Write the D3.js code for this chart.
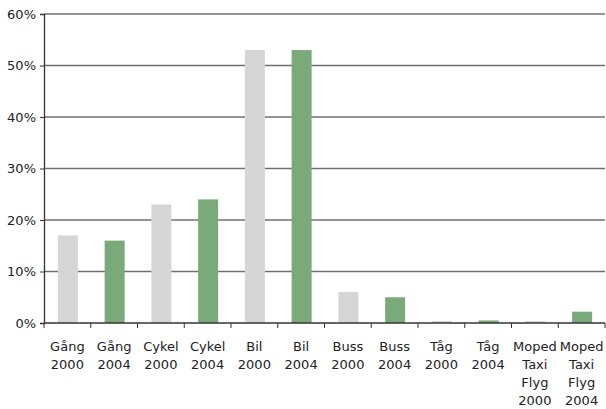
<!DOCTYPE html>
<html><head><meta charset="utf-8">
<script src="https://cdn.jsdelivr.net/npm/d3@7"></script>
<style>body{margin:0;background:#fff}text{font-family:"DejaVu Sans",sans-serif}</style>
</head><body><svg id="c" width="606" height="409"></svg>
<script>
const categories = [["Gång","2000"],["Gång","2004"],["Cykel","2000"],["Cykel","2004"],["Bil","2000"],["Bil","2004"],["Buss","2000"],["Buss","2004"],["Tåg","2000"],["Tåg","2004"],["Moped","Taxi","Flyg","2000"],["Moped","Taxi","Flyg","2004"]];
const values = [17,16,23,24,53,53,6,5,0.4,0.5,0.4,2.2];
const years = ["2000","2004","2000","2004","2000","2004","2000","2004","2000","2004","2000","2004"];
const yTicks = [0,10,20,30,40,50,60];
const colors = {"2000":"#d6d6d6","2004":"#7aaa7a"};

const svg = d3.select("#c");
const m = {l:44, r:605, t:14, b:323};
const x = d3.scaleBand().domain(d3.range(categories.length)).range([m.l, m.r]).paddingInner(0).paddingOuter(0);
const y = d3.scaleLinear().domain([0,60]).range([m.b, m.t]);

// gridlines
svg.append("g").selectAll("line").data(yTicks.filter(d=>d>0)).join("line")
  .attr("x1", m.l).attr("x2", m.r).attr("y1", d=>y(d)).attr("y2", d=>y(d))
  .attr("stroke", "#707070").attr("stroke-width", 1.3);

// bars
const bw = 20;
svg.append("g").selectAll("rect").data(values).join("rect")
  .attr("x", (d,i)=>x(i)+x.bandwidth()/2-bw/2+0.5)
  .attr("width", bw)
  .attr("y", d=>y(d))
  .attr("height", d=>y(0)-y(d))
  .attr("fill", (d,i)=>colors[years[i]]);

// y axis
const ya = svg.append("g").attr("transform", `translate(${m.l},0)`)
  .call(d3.axisLeft(y).tickValues(yTicks).tickFormat(d=>d+"%").tickSize(4).tickPadding(4));
ya.select(".domain").attr("stroke","#333").attr("stroke-width",1.3);
ya.selectAll(".tick line").attr("stroke","#333");
ya.selectAll("text").attr("font-size",13).attr("fill","#222").attr("font-family","DejaVu Sans");

// x axis
const xa = svg.append("g").attr("transform", `translate(0,${m.b})`);
xa.append("line").attr("x1", m.l).attr("x2", m.r).attr("stroke","#333").attr("stroke-width",1.3);
xa.selectAll("line.t").data(d3.range(categories.length+1)).join("line").attr("class","t")
  .attr("x1", i=>i<categories.length? x(i): m.r).attr("x2", i=>i<categories.length? x(i): m.r)
  .attr("y1",0).attr("y2",5).attr("stroke","#333");
const lab = xa.selectAll("text").data(categories).join("text")
  .attr("text-anchor","middle").attr("font-size",13).attr("fill","#222")
  .attr("transform",(d,i)=>`translate(${x(i)+x.bandwidth()/2},28)`);
lab.selectAll("tspan").data(d=>d).join("tspan").attr("x",0).attr("dy",(d,j)=>j===0?0:"18px").text(d=>d);
</script></body></html>
